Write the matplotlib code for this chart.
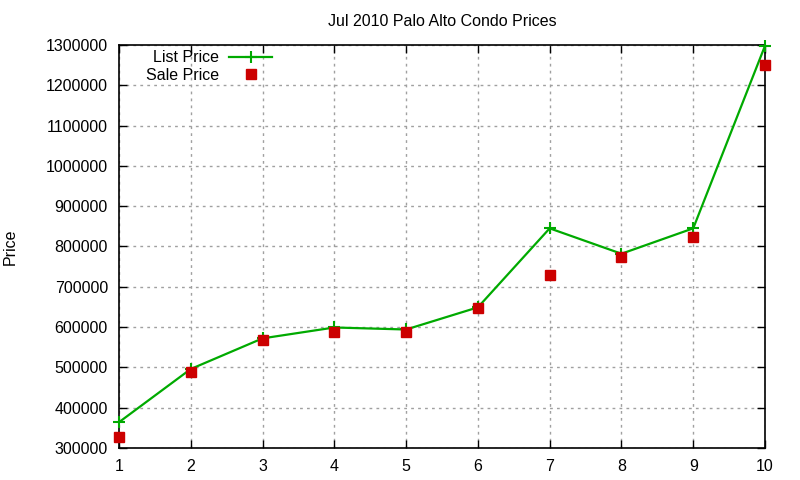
import numpy as np
import matplotlib
matplotlib.use('Agg')
import matplotlib.pyplot as plt

plt.rcParams['font.family'] = ['Liberation Sans', 'DejaVu Sans']

# datos
casas = [1, 2, 3, 4, 5, 6, 7, 8, 9, 10]
precio_lista = [364000, 496000, 572000, 599000, 594000, 649000, 845000, 782000, 845000, 1298000]
precio_venta = [328000, 489000, 568000, 589000, 589000, 648000, 729000, 775000, 824000, 1251000]
yticks = [300000, 400000, 500000, 600000, 700000, 800000, 900000, 1000000, 1100000, 1200000, 1300000]

fig = plt.figure(figsize=(8, 4.8), dpi=100)
ax = fig.add_axes([0.14875, 0.0667, 0.8075, 0.8396])

ax.plot(casas, precio_lista, color='#00aa00', lw=1.6, marker='+', ms=9, mew=1.5,
        label='List Price', clip_on=False, zorder=3)
ax.plot(casas, precio_venta, color='#cc0000', ls='none', marker='s', ms=6.5,
        label='Sale Price', clip_on=False, zorder=4)

ax.set_xlim(1, 10)
ax.set_ylim(300000, 1300000)
ax.set_xticks(casas)
ax.set_yticks(yticks)
ax.set_yticklabels([str(v) for v in yticks])
ax.grid(True, color='#a0a0a0', ls=(0, (2, 3)), lw=1)
ax.tick_params(direction='in', length=6, width=1, top=True, right=True, labelsize=11.5, pad=8, colors='black')
for s in ax.spines.values():
    s.set_linewidth(1.2)

ax.set_title('Jul 2010 Palo Alto Condo Prices', fontsize=11.5, pad=14)
ax.set_ylabel('Price', fontsize=11.5, labelpad=20)

leg = ax.legend(loc='upper left', bbox_to_anchor=(0.025, 1.015), markerfirst=False, frameon=False,
                fontsize=11.5, handlelength=2.7, handletextpad=0.6, labelspacing=0.15, borderaxespad=0.3)
for t in leg.get_texts():
    t.set_ha('right')
    t.set_position((0, 0))

fig.savefig('out.png', dpi=100)
